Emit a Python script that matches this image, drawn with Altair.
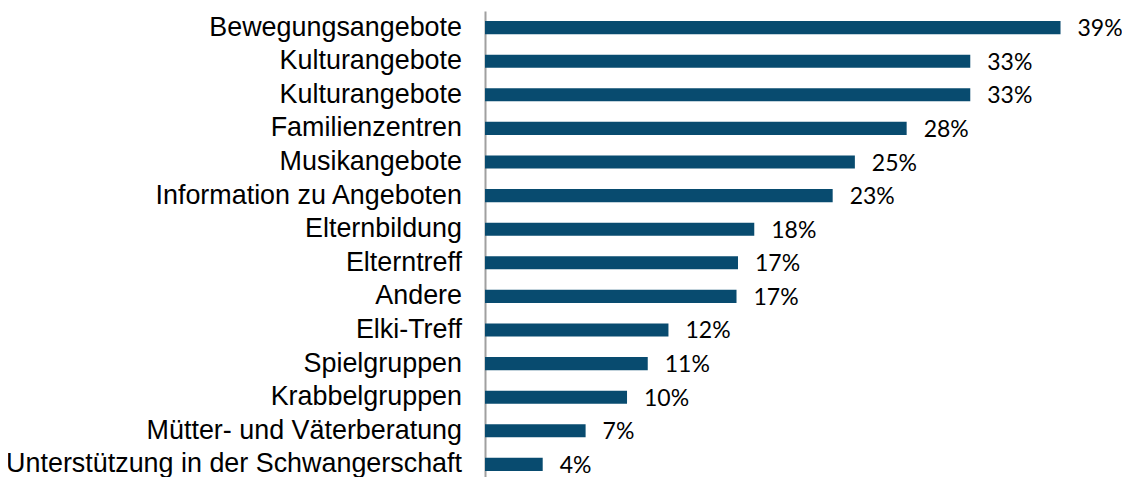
import altair as alt
import pandas as pd

categories = [
    "Bewegungsangebote", "Kulturangebote", "Kulturangebote", "Familienzentren",
    "Musikangebote", "Information zu Angeboten", "Elternbildung", "Elterntreff",
    "Andere", "Elki-Treff", "Spielgruppen", "Krabbelgruppen",
    "Mütter- und Väterberatung", "Unterstützung in der Schwangerschaft",
]
values = [38.9, 32.8, 32.8, 28.5, 25.0, 23.5, 18.2, 17.1, 17.0, 12.4, 11.0, 9.6, 6.8, 3.9]
labels = [39, 33, 33, 28, 25, 23, 18, 17, 17, 12, 11, 10, 7, 4]

df = pd.DataFrame({
    "idx": list(range(len(categories))),
    "cat": categories,
    "val": values,
    "lab": [f"{v}%" for v in labels],
})

x = alt.X("val:Q", scale=alt.Scale(domain=[0, 39], nice=False, zero=True), axis=None)
y = alt.Y(
    "idx:O",
    scale=alt.Scale(paddingInner=0.61, paddingOuter=0.3),
    axis=alt.Axis(labels=False, ticks=False, title=None, domain=True,
                  domainColor="#A0A0A0", domainWidth=2, grid=False),
)

base = alt.Chart(df)

bars = base.mark_bar(color="#084B6F").encode(x=x, y=y)

vals = base.mark_text(align="left", baseline="middle", dx=17, dy=1.5,
                      font="Lato", fontSize=23, color="#000000").encode(
    x=x, y=y, text="lab:N")

cats = base.mark_text(align="right", baseline="middle", dx=-23,
                      font="Liberation Sans", fontSize=26.9, color="#000000").encode(
    x=alt.datum(0), y=y, text="cat:N")

chart = alt.layer(bars, vals, cats).properties(
    width=577, height=470,
    autosize=alt.AutoSizeParams(type="none"),
    padding={"left": 477, "top": 3, "right": 60, "bottom": 0},
).configure_view(stroke=None)

chart.save("out.html", embed_options={"renderer": "svg", "actions": False})
